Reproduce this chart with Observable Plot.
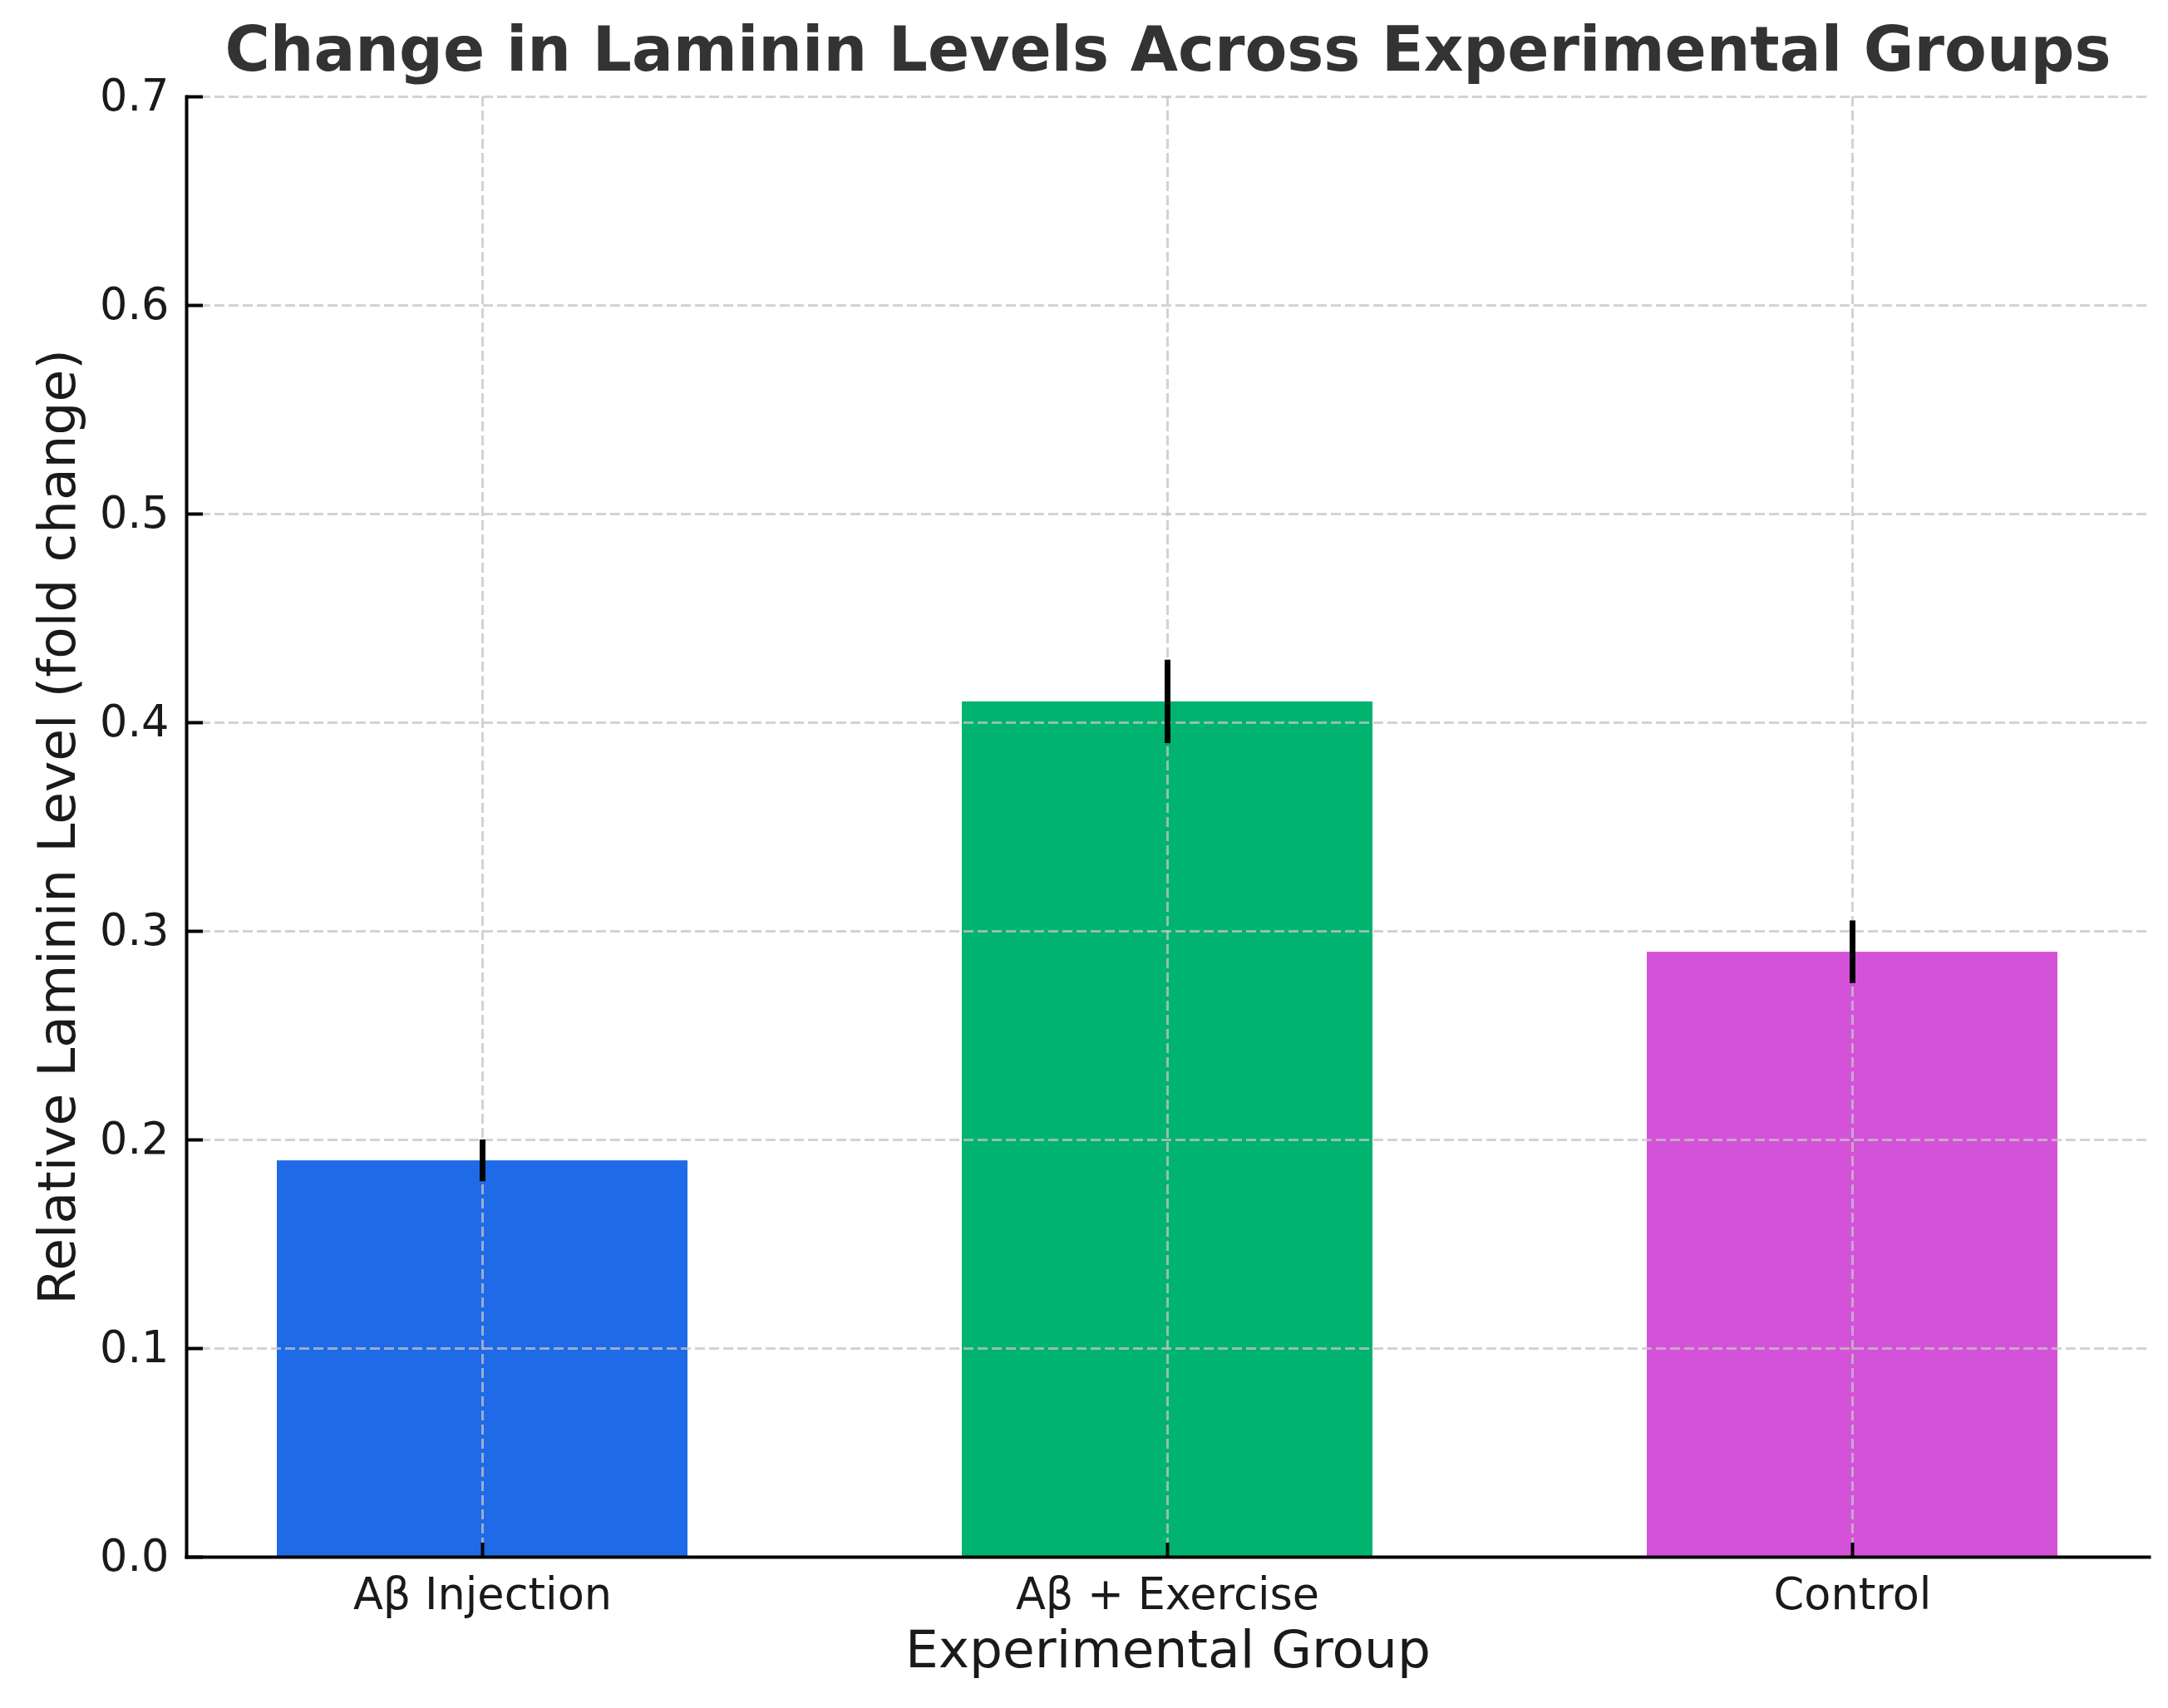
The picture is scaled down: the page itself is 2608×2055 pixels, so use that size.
<!DOCTYPE html>
<html>
<head>
<meta charset="utf-8">
<script src="https://cdn.jsdelivr.net/npm/d3@7"></script>
<script src="https://cdn.jsdelivr.net/npm/@observablehq/plot@0.6"></script>
<style>
  html, body { margin: 0; padding: 0; background: #ffffff; }
  #chart { width: 2608px; height: 2055px; }
</style>
</head>
<body>
<div id="chart"></div>
<script>
// ---- data ----
const groups = ["Aβ Injection", "Aβ + Exercise", "Control"];
const values = [0.19, 0.41, 0.29];
const errors = [0.01, 0.02, 0.015];
const colors = ["#1f6ae6", "#00b36e", "#d452d8"];
const yTicks = [0, 0.1, 0.2, 0.3, 0.4, 0.5, 0.6, 0.7];
const title = "Change in Laminin Levels Across Experimental Groups";
const xTitle = "Experimental Group";
const yTitle = "Relative Laminin Level (fold change)";

const data = groups.map((g, i) => ({group: g, value: values[i], err: errors[i]}));

const W = 2608, H = 2055;
const mTop = 116, mBottom = 182, mLeft = 224, mRight = 23;
const frameW = W - mLeft - mRight;
const frameH = H - mTop - mBottom;

const gridStyle = {stroke: "#c4c4c4", strokeOpacity: 0.75, strokeWidth: 3, strokeDasharray: "12,5"};

const chart = Plot.plot({
  width: W,
  height: H,
  marginTop: mTop,
  marginBottom: mBottom,
  marginLeft: mLeft,
  marginRight: mRight,
  style: {fontFamily: "DejaVu Sans", background: "#ffffff", color: "#1a1a1a"},
  x: {domain: groups, paddingInner: 0.4, paddingOuter: 0.131, align: 0.5, label: null},
  y: {domain: [0, 0.7], label: null},
  color: {domain: groups, range: colors},
  marks: [
    Plot.barY(data, {x: "group", y: "value", fill: "group"}),
    Plot.gridY(yTicks, gridStyle),
    Plot.gridX(groups, gridStyle),
    Plot.ruleX(data, {x: "group", y1: d => d.value - d.err, y2: d => d.value + d.err, stroke: "#000000", strokeWidth: 7}),
    Plot.tickY(yTicks, {y: d => d, insetRight: frameW - 20, stroke: "#000000", strokeWidth: 4}),
    Plot.tickX(groups, {x: d => d, insetTop: frameH - 17, stroke: "#000000", strokeWidth: 4}),
    Plot.frame({anchor: "left", stroke: "#000000", strokeWidth: 4}),
    Plot.frame({anchor: "bottom", stroke: "#000000", strokeWidth: 4}),
    Plot.axisY(yTicks, {tickSize: 0, tickPadding: 21, tickFormat: d3.format(".1f"), fontSize: 52.5, fill: "#1a1a1a", label: null}),
    Plot.axisX(groups, {tickSize: 0, tickPadding: 25, fontSize: 52.5, fill: "#1a1a1a", label: null}),
    Plot.text([title], {text: d => d, frameAnchor: "top", textAnchor: "middle", lineAnchor: "bottom", dy: -32, fontSize: 74, fontWeight: "bold", fill: "#333333"}),
    Plot.text([xTitle], {text: d => d, frameAnchor: "bottom", textAnchor: "middle", lineAnchor: "bottom", dy: 132, fontSize: 63, fill: "#1a1a1a"}),
    Plot.text([yTitle], {text: d => d, frameAnchor: "left", textAnchor: "middle", lineAnchor: "bottom", rotate: -90, dx: -135, fontSize: 63, fill: "#1a1a1a"})
  ]
});
document.getElementById("chart").appendChild(chart);
</script>
</body>
</html>
